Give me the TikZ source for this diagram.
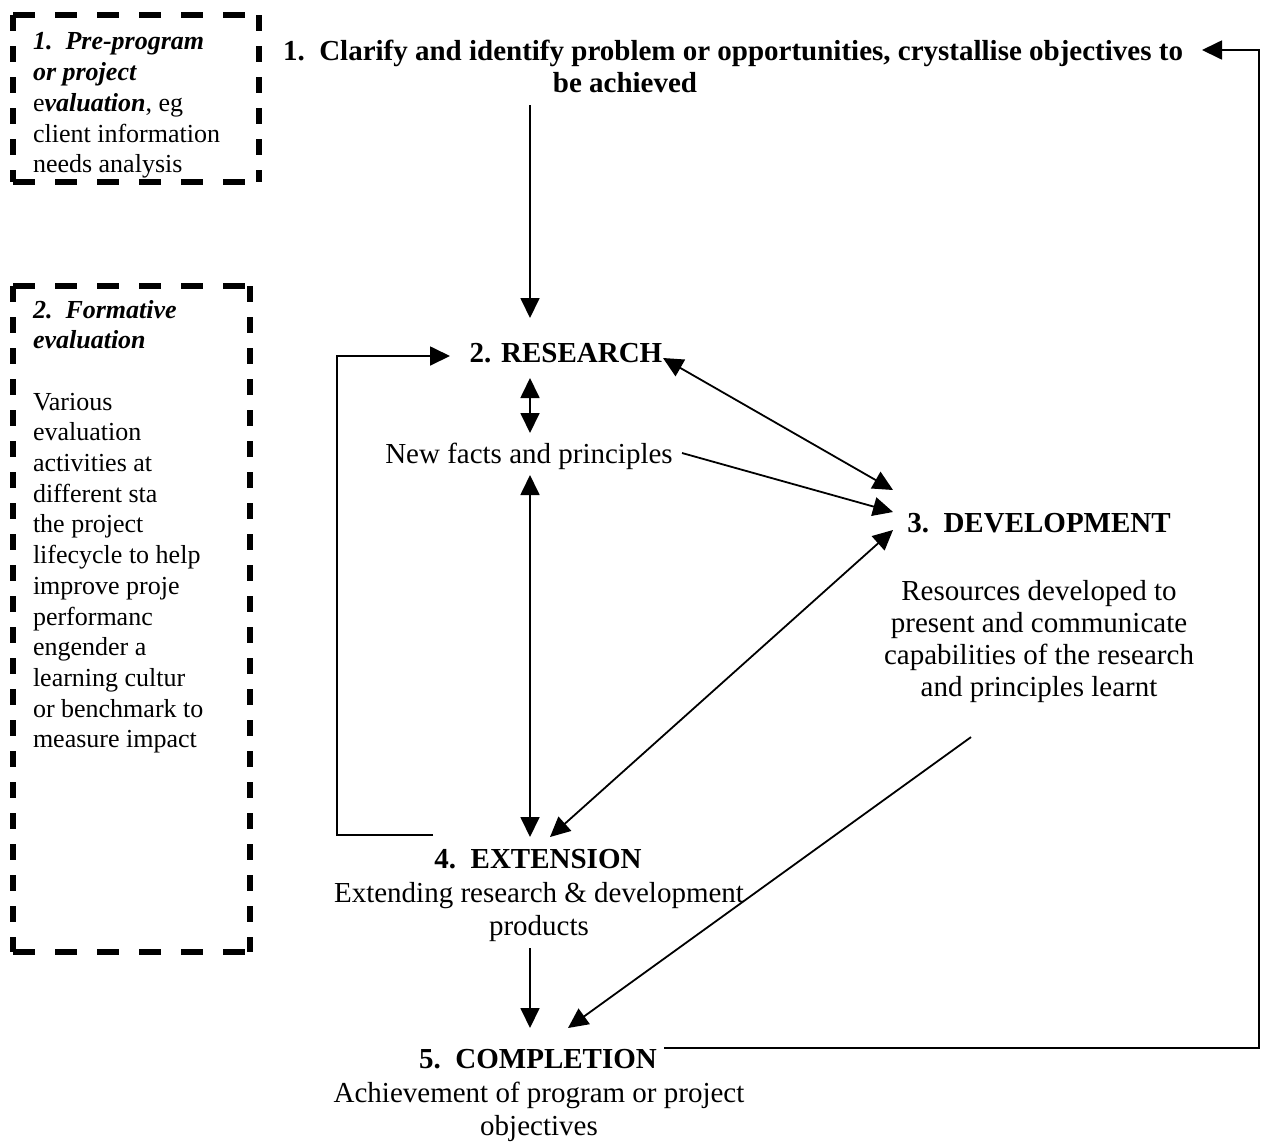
\documentclass[tikz,border=0pt]{standalone}
\usepackage{fontspec}
\setmainfont{Liberation Serif}
\usetikzlibrary{arrows.meta}
\begin{document}
\begin{tikzpicture}[x=1pt,y=-1pt,
  every node/.style={inner sep=0pt, outer sep=0pt},
  main/.style={font=\fontsize{29}{33}\selectfont},
  head/.style={font=\fontsize{29}{33}\selectfont\bfseries},
  desc/.style={font=\fontsize{29}{33}\selectfont, align=center, anchor=north},
  boxtext/.style={font=\fontsize{26}{30.7}\selectfont, align=left, anchor=north west},
  arr/.style={line width=1.8pt, -{Triangle[length=20pt,width=19pt]}},
  darr/.style={line width=1.8pt, {Triangle[length=20pt,width=19pt]}-{Triangle[length=20pt,width=19pt]}},
  hdash/.style={line width=6pt, dash pattern=on 22pt off 20pt},
  vdash/.style={line width=6pt, dash pattern=on 16pt off 15pt},
]
\useasboundingbox (0,0) rectangle (1282,1144);

% dashed evaluation boxes
\node[minimum width=246pt, minimum height=167pt, anchor=north west] (box1) at (13,15) {};
\draw[hdash] (box1.north west) -- (box1.north east);
\draw[hdash] (box1.south west) -- (box1.south east);
\draw[vdash] (box1.north west) -- (box1.south west);
\draw[vdash] (box1.north east) -- (box1.south east);
\node[boxtext] (box1t) at (33,28.5) {\strut\textbf{\textit{1.\ \ Pre-program}}\\
  \textbf{\textit{or project}}\\
  e\textbf{\textit{valuation}}, eg\\
  client information\\
  needs analysis};

\node[minimum width=237pt, minimum height=666pt, anchor=north west] (box2) at (13,286) {};
\draw[hdash] (box2.north west) -- (box2.north east);
\draw[hdash] (box2.south west) -- (box2.south east);
\draw[vdash] (box2.north west) -- (box2.south west);
\draw[vdash] (box2.north east) -- (box2.south east);
\node[boxtext] (box2t) at (33,296.5) {\strut\textbf{\textit{2.\ \ Formative}}\\
  \textbf{\textit{evaluation}}\\
  \strut\\
  Various\\
  evaluation\\
  activities at\\
  different sta\\
  the project\\
  lifecycle to help\\
  improve proje\\
  performanc\\
  engender a\\
  learning cultur\\
  or benchmark to\\
  measure impact};

% main nodes
\node[head, anchor=base] (t1a) at (733,60) {1.\ \ Clarify and identify problem or opportunities, crystallise objectives to};
\node[head, anchor=base] (t1b) at (625,92) {be achieved};
\node[head, anchor=base] (research) at (566,362) {2. RESEARCH};
\node[main, anchor=base] (facts) at (529,463) {New facts and principles};
\node[head, anchor=base] (dev) at (1039,532) {3.\ \ DEVELOPMENT};
\node[desc, font=\fontsize{29}{32.3}\selectfont] (devtext) at (1039,577.4) {\strut Resources developed to\\
  present and communicate\\
  capabilities of the research\\
  and principles learnt};
\node[head, anchor=base] (ext) at (538,868) {4.\ \ EXTENSION};
\node[desc] (exttext) at (539,878.9) {\strut Extending research \& development\\ products};
\node[head, anchor=base] (comp) at (538,1068) {5.\ \ COMPLETION};
\node[desc] (comptext) at (539,1078.9) {\strut Achievement of program or project\\ objectives};

% connectors
\draw[arr] ([shift={(-95,13)}]t1b.base) -- ([shift={(-36,-44)}]research.base);
\draw[arr] ([shift={(-105,-33)}]ext.base) -- ++(-96,0) |- ([shift={(-116,-6)}]research.base);
\draw[darr] ([shift={(-36,16)}]research.base) -- ([shift={(1,-30)}]facts.base);
\draw[arr] ([shift={(153,-10)}]facts.base) -- ([shift={(-146,-20)}]dev.base);
\draw[darr] ([shift={(97,-4)}]research.base) -- ([shift={(-146,-42)}]dev.base);
\draw[darr] ([shift={(1,12)}]facts.base) -- ([shift={(-8,-31)}]ext.base);
\draw[darr] ([shift={(-146,-2)}]dev.base) -- ([shift={(12,-31)}]ext.base);
\draw[arr] ([shift={(-68,34)}]devtext.south) -- ([shift={(30,-40)}]comp.base);
\draw[arr] ([shift={(-9,7)}]exttext.south) -- ([shift={(-8,-40)}]comp.base);
\draw[arr] ([shift={(126,-20)}]comp.base) -- ++(595,0) |- ([shift={(469,-10)}]t1a.base);
\end{tikzpicture}
\end{document}
